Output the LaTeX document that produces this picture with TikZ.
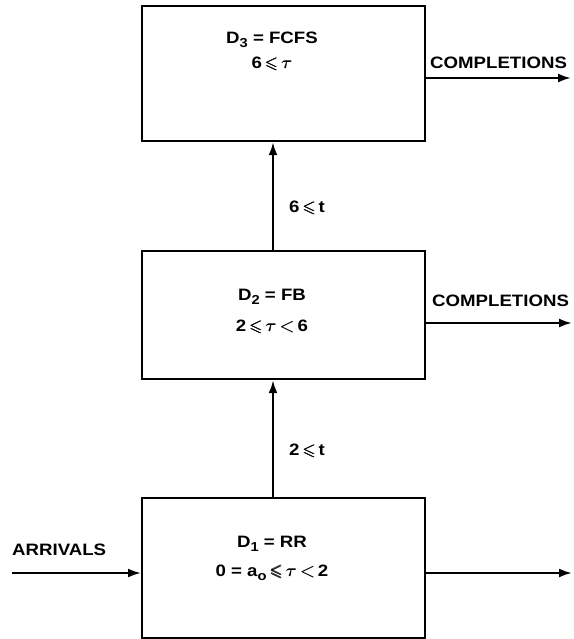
\documentclass[tikz,border=0pt]{standalone}
\usepackage{amssymb,amsmath,bm}
\usepackage{fontspec}
\setmainfont{Liberation Sans}[FakeStretch=1.13]
\usetikzlibrary{arrows.meta}
\newcommand{\mysub}[1]{\raisebox{-4.5pt}{\fontsize{13}{14}\selectfont #1}}
\newcommand{\myle}{\,$\bm{\leqslant}$\,}
\newcommand{\mytau}{$\bm{\tau}$}
\newcommand{\mylt}{\,$\bm{<}$\,}
\begin{document}
\begin{tikzpicture}[x=1pt,y=-1pt,
  blk/.style={draw,line width=2.2pt,minimum width=283pt,anchor=north west,inner sep=0pt},
  lbl/.style={font=\fontsize{16.5}{19}\selectfont\bfseries,inner sep=0pt},
  arr/.style={line width=2.2pt,-{Latex[length=13pt,width=9pt]}}]
\useasboundingbox (0,0) rectangle (573,639);
\node[blk,minimum height=135pt] (b3) at (141,5) {};
\node[blk,minimum height=128pt] (b2) at (141,250) {};
\node[blk,minimum height=140pt] (b1) at (141,497) {};
% texts
\node[lbl] (t3a) at (272,40) {D\mysub{3} = FCFS};
\node[lbl] (t3b) at (272,64) {6\myle\mytau};
\node[lbl] (t2a) at (272,297) {D\mysub{2} = FB};
\node[lbl] (t2b) at (272,327) {2\myle\mytau\mylt6};
\node[lbl] (t1a) at (272,544) {D\mysub{1} = RR};
\node[lbl] (t1b) at (272,573) {0 = a\mysub{o}\myle\mytau\mylt2};
% arrows
\coordinate (c3) at (571,78);
\coordinate (c2) at (572,323);
\coordinate (c1) at (572,573);
\coordinate (in) at (12,573);
\draw[arr] (b3.east |- c3) -- (c3);
\draw[arr] (b2.east |- c2) -- (c2);
\draw[arr] (b1.east |- c1) -- (c1);
\draw[arr] (in) -- (b1.west |- in);
\draw[arr] (b2.north -| 273,0) -- (b3.south -| 273,0);
\draw[arr] (b1.north -| 273,0) -- (b2.south -| 273,0);
\node[lbl,anchor=west] (lc3) at (430,63) {COMPLETIONS};
\node[lbl,anchor=west] (lc2) at (432,301) {COMPLETIONS};
\node[lbl,anchor=west] (la) at (12,550) {ARRIVALS};
\node[lbl,anchor=west] (l6) at (289,208) {6\myle t};
\node[lbl,anchor=west] (l2) at (289,451) {2\myle t};
\end{tikzpicture}
\end{document}
